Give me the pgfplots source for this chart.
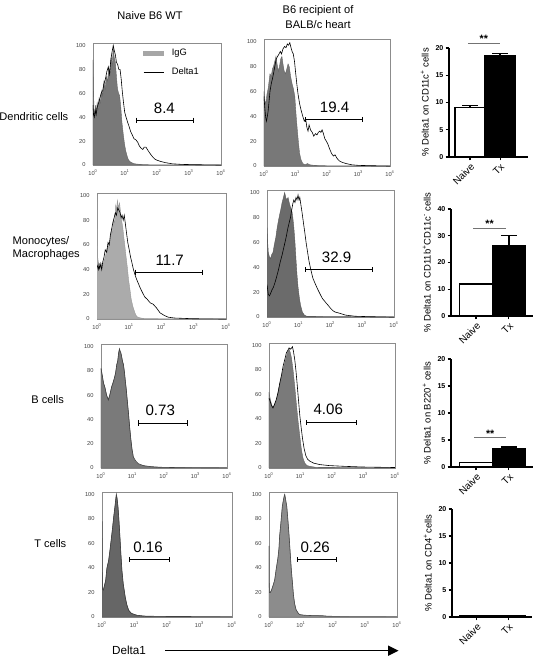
\documentclass[border=0pt]{standalone}
\usepackage{fontspec}
\setmainfont{Liberation Sans}
\usepackage{pgfplots}
\pgfplotsset{compat=1.18}
\usetikzlibrary{arrows.meta}
\begin{document}
\begin{tikzpicture}
\useasboundingbox (0,0) rectangle (408pt,-496.5pt);

% ---------- titles and row labels ----------
\node[font=\fontsize{8.3}{10}\selectfont] at (112.5pt,-12pt) {Naive B6 WT};
\node[font=\fontsize{8.3}{11.25}\selectfont, align=center] at (238.5pt,-13.1pt) {B6 recipient of\\BALB/c heart};
\node[font=\fontsize{8.3}{10}\selectfont, anchor=east] at (54.75pt,-87.75pt) {Dendritic cells};
\node[font=\fontsize{8.3}{9.75}\selectfont, anchor=west, align=left] at (6pt,-186.4pt) {Monocytes/\\Macrophages};
\node[font=\fontsize{8.3}{10}\selectfont, anchor=east] at (51.5pt,-300pt) {B cells};
\node[font=\fontsize{8.3}{10}\selectfont, anchor=east] at (53.25pt,-408pt) {T cells};
\node[font=\fontsize{8.8}{10}\selectfont, anchor=west] at (80.5pt,-487.5pt) {Delta1};
\draw[line width=1.1pt, -{Triangle[length=8pt,width=7.5pt]}] (123.75pt,-488pt) -- (299pt,-488pt);

% ================= ROW 1 =================
\begin{axis}[at={(69.75pt,-123.75pt)}, anchor=south west, width=96pt, height=91.5pt,
  scale only axis, xmode=log, xmin=1, xmax=10000, ymin=0, ymax=102,
  xtick={1,10,100,1000,10000},
  xticklabels={10\textsuperscript{0},10\textsuperscript{1},10\textsuperscript{2},10\textsuperscript{3},10\textsuperscript{4}},
  ytick={0,20,40,60,80,100}, yticklabels={0,20,40,60,80,100},
  major tick length=0pt, minor tick length=0pt,
  axis line style={black!45, line width=0.5pt},
  tick label style={font=\fontsize{4.3}{5}\selectfont, text=black!75},
  yticklabel style={xshift=-2pt},
  legend style={at={(0.39,0.975)}, anchor=north west, draw=none, fill=none,
    font=\fontsize{7}{8}\selectfont, row sep=3.5pt, inner sep=0pt,
    nodes={inner xsep=6pt}},
  legend cell align=left]
\addplot[fill=black!53, draw=black!60, line width=0.3pt,
  legend image code/.code={\fill[black!35] (0pt,-1.2pt) rectangle (15pt,1.2pt);}] coordinates {(1,88) (1.04,62) (1.08,45) (1.13,41) (1.2,50) (1.27,44) (1.35,52) (1.45,47) (1.55,56) (1.7,52) (1.85,62) (2.0,58) (2.2,70) (2.4,64) (2.6,74) (2.85,70) (3.1,82) (3.4,76) (3.7,90) (4.0,84) (4.3,98) (4.6,90) (5.0,86) (5.4,74) (5.8,64) (6.3,60) (6.8,58) (7.4,48) (8.0,36) (8.8,26) (9.6,18) (10.5,12) (11.5,8) (12.5,5) (14,3) (16,2) (20,1) (30,0.5) (60,0.2) (10000,0)} \closedcycle;
\addplot[black, line width=0.45pt,
  legend image code/.code={\draw[black, line width=0.5pt] (0pt,0pt) -- (15pt,0pt);}] coordinates {(1,50) (1.04,42) (1.1,40) (1.17,46) (1.25,42) (1.35,48) (1.5,52) (1.65,56) (1.8,60) (2.0,62) (2.2,68) (2.45,72) (2.7,78) (3.0,82) (3.3,76) (3.6,88) (3.9,94) (4.3,100) (4.6,96) (5.0,92) (5.4,86) (5.9,84) (6.4,80) (7.0,80) (7.6,72) (8.2,62) (9.0,52) (9.8,44) (10.8,40) (12,36) (13.5,32) (15,28) (17,25) (19,22) (22,21) (25,19) (28,16) (32,14) (36,13) (40,15) (45,15) (50,13) (56,11) (63,9) (72,7) (85,5) (100,4) (130,3) (180,2) (300,1) (600,0.5) (2000,0.2) (10000,0)};
\legend{IgG,Delta1}
\addplot[black, line width=0.7pt, mark=|, mark size=1.9pt, forget plot] coordinates {(23,37.5) (1380,37.5)};
\node[font=\fontsize{11.3}{12}\selectfont] at (axis cs:170,47) {8.4};
\end{axis}

\begin{axis}[at={(198pt,-124.5pt)}, anchor=south west, width=94.5pt, height=95.25pt,
  scale only axis, xmode=log, xmin=1, xmax=10000, ymin=0, ymax=102,
  xtick={1,10,100,1000,10000},
  xticklabels={10\textsuperscript{0},10\textsuperscript{1},10\textsuperscript{2},10\textsuperscript{3},10\textsuperscript{4}},
  ytick={0,20,40,60,80,100}, yticklabels={0,20,40,60,80,100},
  major tick length=0pt, minor tick length=0pt,
  axis line style={black!45, line width=0.5pt},
  tick label style={font=\fontsize{4.3}{5}\selectfont, text=black!75},
  yticklabel style={xshift=-2pt}]
\addplot[fill=black!53, draw=black!60, line width=0.3pt] coordinates {(1,60) (1.05,55) (1.1,50) (1.17,52) (1.25,58) (1.35,62) (1.45,68) (1.55,74) (1.7,72) (1.85,78) (2.0,80) (2.2,84) (2.4,88) (2.6,82) (2.85,76) (3.1,80) (3.4,86) (3.7,88) (4.0,82) (4.4,76) (4.8,74) (5.3,78) (5.8,82) (6.3,80) (7.0,72) (7.8,66) (8.6,62) (9.5,56) (10.5,40) (11.5,28) (12.5,18) (13.5,10) (15,5) (17,2) (20,1) (24,2) (28,1) (40,0.5) (100,0.2) (10000,0)} \closedcycle;
\addplot[black, line width=0.45pt] coordinates {(1,56) (1.05,48) (1.1,42) (1.15,38) (1.2,36) (1.28,40) (1.35,44) (1.45,52) (1.55,60) (1.7,66) (1.85,70) (2.0,74) (2.2,80) (2.45,86) (2.7,88) (3.0,90) (3.3,92) (3.6,90) (4.0,94) (4.5,96) (5.0,95) (5.5,98) (6.0,97) (6.6,99) (7.2,95) (7.8,92) (8.5,90) (9.3,84) (10,76) (11,66) (12,58) (13.5,50) (15,45) (17,40) (19,36) (21,38) (23,31) (25,28) (27,33) (30,29) (34,27) (38,24) (43,26) (48,25) (53,27) (58,28) (64,27) (70,29) (77,26) (85,22) (95,20) (105,18) (120,14) (140,10) (160,8) (180,9) (210,6) (250,4) (300,3) (400,2) (600,1) (1000,0.5) (3000,0.2) (10000,0)};
\addplot[black, line width=0.7pt, mark=|, mark size=1.9pt] coordinates {(21,37.5) (1300,37.5)};
\node[font=\fontsize{11.3}{12}\selectfont] at (axis cs:175,47) {19.4};
\end{axis}

\begin{axis}[at={(336.75pt,-117.75pt)}, anchor=south west, width=59.25pt, height=81.75pt,
  scale only axis, axis lines=left, axis line style={-, line width=0.9pt},
  clip=false, xtick={0,1}, xticklabels={Naive,Tx},
  xticklabel style={rotate=45, anchor=north east, font=\fontsize{7.5}{8}\selectfont, inner sep=1pt},
  yticklabel style={font=\bfseries\fontsize{5.3}{6}\selectfont, inner sep=1.5pt},
  tick align=outside, major tick length=2.5pt, tick style={black, line width=0.8pt},
  ylabel style={font=\fontsize{7.1}{8}\selectfont},
  xmin=-0.7, xmax=1.93, ymin=0, ymax=20, ytick={0,5,10,15,20}, yticklabels={0,5,10,15,20},
  ybar, bar width=22.5pt, ylabel={\% Delta1 on CD11c\textsuperscript{+} cells}]
\addplot[fill=white, draw=black, line width=1.1pt, bar shift=0pt,
  error bars/.cd, y dir=plus, y explicit, error bar style={line width=1pt, black},
  error mark options={rotate=90, mark size=6pt, line width=1pt, black}] coordinates {(0,9.1) +- (0,0.3)};
\addplot[fill=black, draw=black, line width=1.1pt, bar shift=0pt,
  error bars/.cd, y dir=plus, y explicit, error bar style={line width=1pt, black},
  error mark options={rotate=90, mark size=6pt, line width=1pt, black}] coordinates {(1,18.6) +- (0,0.4)};
\addplot[black!55, line width=0.6pt, sharp plot] coordinates {(-0.07,20.9) (1,20.9)};
\node[font=\bfseries\fontsize{8}{8}\selectfont] at (axis cs:0.46,21.6) {**};
\end{axis}

% ================= ROW 2 =================
\begin{axis}[at={(72.75pt,-239.25pt)}, anchor=south west, width=96.75pt, height=94.5pt,
  scale only axis, xmode=log, xmin=1, xmax=10000, ymin=0, ymax=102,
  xtick={1,10,100,1000,10000},
  xticklabels={10\textsuperscript{0},10\textsuperscript{1},10\textsuperscript{2},10\textsuperscript{3},10\textsuperscript{4}},
  ytick={0,20,40,60,80,100}, yticklabels={0,20,40,60,80,100},
  major tick length=0pt, minor tick length=0pt,
  axis line style={black!45, line width=0.5pt},
  tick label style={font=\fontsize{4.3}{5}\selectfont, text=black!75},
  yticklabel style={xshift=-2pt}]
\addplot[fill=black!33, draw=black!40, line width=0.3pt] coordinates {(1,100) (1.02,70) (1.05,50) (1.1,46) (1.2,44) (1.3,46) (1.45,43) (1.6,46) (1.8,50) (2.0,56) (2.2,60) (2.4,58) (2.6,66) (2.8,72) (3.0,70) (3.2,80) (3.5,78) (3.8,92) (4.0,88) (4.3,96) (4.6,90) (5.0,94) (5.4,86) (5.8,80) (6.3,74) (6.8,66) (7.4,58) (8,50) (8.7,42) (9.5,32) (10.5,24) (11.5,16) (13,10) (15,5) (17,2) (21,1) (30,0.3) (10000,0)} \closedcycle;
\addplot[black, line width=0.45pt] coordinates {(1,44) (1.05,42) (1.1,40) (1.15,44) (1.2,41) (1.3,44) (1.4,40) (1.5,46) (1.65,50) (1.8,56) (2.0,54) (2.2,62) (2.4,60) (2.6,68) (2.8,72) (3.1,78) (3.4,82) (3.7,86) (4.0,84) (4.4,90) (4.8,88) (5.2,86) (5.6,82) (6.0,84) (6.5,80) (7.0,84) (7.5,78) (8.2,70) (9.0,62) (10,56) (11,50) (12,46) (13.5,40) (15,36) (17,32) (19,29) (22,25) (25,22) (30,18) (36,16) (45,13) (55,12) (70,9) (90,5) (120,3) (160,1.5) (250,0.8) (1000,0.2) (10000,0)};
\addplot[black, line width=0.7pt, mark=|, mark size=1.9pt] coordinates {(16,38) (1900,38)};
\node[font=\fontsize{11.3}{12}\selectfont] at (axis cs:180,47.6) {11.7};
\end{axis}

\begin{axis}[at={(200.25pt,-237.75pt)}, anchor=south west, width=95.25pt, height=95.25pt,
  scale only axis, xmode=log, xmin=1, xmax=10000, ymin=0, ymax=102,
  xtick={1,10,100,1000,10000},
  xticklabels={10\textsuperscript{0},10\textsuperscript{1},10\textsuperscript{2},10\textsuperscript{3},10\textsuperscript{4}},
  ytick={0,20,40,60,80,100}, yticklabels={0,20,40,60,80,100},
  major tick length=0pt, minor tick length=0pt,
  axis line style={black!45, line width=0.5pt},
  tick label style={font=\fontsize{4.3}{5}\selectfont, text=black!75},
  yticklabel style={xshift=-2pt}]
\addplot[fill=black!58, draw=black!65, line width=0.3pt] coordinates {(1,72) (1.05,60) (1.1,52) (1.2,48) (1.3,47) (1.4,50) (1.55,52) (1.7,58) (1.9,64) (2.1,72) (2.4,80) (2.7,86) (3.0,92) (3.3,96) (3.6,100) (3.9,96) (4.2,94) (4.6,96) (5.0,92) (5.5,88) (6.0,86) (6.5,80) (7.0,72) (7.6,60) (8.2,46) (8.8,34) (9.5,24) (10.5,15) (11.5,9) (13,4) (15,1.5) (18,0.5) (10000,0)} \closedcycle;
\addplot[black, line width=0.45pt] coordinates {(1,26) (1.05,22) (1.1,18) (1.2,17) (1.3,19) (1.45,22) (1.6,24) (1.8,28) (2.0,32) (2.3,38) (2.6,44) (3.0,50) (3.4,56) (4.0,64) (4.6,72) (5.5,80) (6.0,86) (6.5,91) (7.0,94) (7.6,92) (8.2,96) (8.8,94) (9.5,98) (10.2,94) (10.8,96) (11.7,90) (12.7,84) (14,76) (15.5,68) (17,60) (19,52) (21,45) (24,38) (28,31) (34,26) (40,22) (48,18) (55,15) (64,13) (74,11) (87,9) (100,7) (120,5) (140,4) (195,3) (300,1.5) (600,0.6) (2000,0.2) (10000,0)};
\addplot[black, line width=0.7pt, mark=|, mark size=1.9pt] coordinates {(16.6,38) (2100,38)};
\node[font=\fontsize{11.3}{12}\selectfont] at (axis cs:155,48) {32.9};
\end{axis}

\begin{axis}[at={(338.25pt,-237pt)}, anchor=south west, width=61.5pt, height=80.25pt,
  scale only axis, axis lines=left, axis line style={-, line width=0.9pt},
  clip=false, xtick={0,1}, xticklabels={Naive,Tx},
  xticklabel style={rotate=45, anchor=north east, font=\fontsize{7.5}{8}\selectfont, inner sep=1pt},
  yticklabel style={font=\bfseries\fontsize{5.3}{6}\selectfont, inner sep=1.5pt},
  tick align=outside, major tick length=2.5pt, tick style={black, line width=0.8pt},
  ylabel style={font=\fontsize{7.1}{8}\selectfont},
  xmin=-0.76, xmax=1.73, ymin=0, ymax=40, ytick={0,10,20,30,40}, yticklabels={0,10,20,30,40},
  ybar, bar width=24.75pt, ylabel={\% Delta1 on CD11b\textsuperscript{+}CD11c\textsuperscript{-} cells}]
\addplot[fill=white, draw=black, line width=1.1pt, bar shift=0pt] coordinates {(0,12)};
\addplot[fill=black, draw=black, line width=1.1pt, bar shift=0pt,
  error bars/.cd, y dir=plus, y explicit, error bar style={line width=1pt, black},
  error mark options={rotate=90, mark size=6pt, line width=1pt, black}] coordinates {(1,26.2) +- (0,3.8)};
\addplot[black!55, line width=0.6pt, sharp plot] coordinates {(-0.09,32.9) (0.91,32.9)};
\node[font=\bfseries\fontsize{8}{8}\selectfont] at (axis cs:0.41,34.4) {**};
\end{axis}

% ================= ROW 3 =================
\begin{axis}[at={(75.75pt,-351pt)}, anchor=south west, width=94.5pt, height=93pt,
  scale only axis, xmode=log, xmin=1, xmax=10000, ymin=0, ymax=102,
  xtick={1,10,100,1000,10000},
  xticklabels={10\textsuperscript{0},10\textsuperscript{1},10\textsuperscript{2},10\textsuperscript{3},10\textsuperscript{4}},
  ytick={0,20,40,60,80,100}, yticklabels={0,20,40,60,80,100},
  major tick length=0pt, minor tick length=0pt,
  axis line style={black!45, line width=0.5pt},
  tick label style={font=\fontsize{4.3}{5}\selectfont, text=black!75},
  yticklabel style={xshift=-2pt}]
\addplot[fill=black!52, draw=black!60, line width=0.3pt] coordinates {(1,82) (1.1,76) (1.2,70) (1.34,66) (1.5,60) (1.71,56) (1.9,60) (2.19,67) (2.4,70) (2.66,74) (2.9,78) (3.16,85) (3.4,88) (3.6,94) (3.85,98) (4.05,96) (4.24,95) (4.5,92) (4.8,88) (5.16,85) (5.6,78) (6.0,70) (6.27,66) (6.8,56) (7.46,45) (8.1,34) (8.83,24) (9.7,15) (10.7,8) (12.5,5) (15.5,3) (22,1.8) (36.6,1) (80,0.4) (10000,0)} \closedcycle;
\addplot[black!75, line width=0.45pt] coordinates {(1,82) (1.1,76) (1.2,70) (1.34,66) (1.5,60) (1.71,56) (1.9,60) (2.19,67) (2.4,70) (2.66,74) (2.9,78) (3.16,85) (3.4,88) (3.6,94) (3.85,98) (4.05,96) (4.24,95) (4.5,92) (4.8,88) (5.16,85) (5.6,78) (6.0,70) (6.27,66) (6.8,56) (7.46,45) (8.1,34) (8.83,24) (9.7,15) (10.7,9) (12.5,6) (15.5,3.5) (22,2) (36.6,1.2) (80,0.6) (300,0.3) (10000,0.2)};
\addplot[black, line width=0.7pt, mark=|, mark size=1.9pt] coordinates {(16,37) (570,37)};
\node[font=\fontsize{11.3}{12}\selectfont] at (axis cs:76,47.6) {0.73};
\end{axis}

\begin{axis}[at={(201.75pt,-351pt)}, anchor=south west, width=94.5pt, height=93.75pt,
  scale only axis, xmode=log, xmin=1, xmax=10000, ymin=0, ymax=102,
  xtick={1,10,100,1000,10000},
  xticklabels={10\textsuperscript{0},10\textsuperscript{1},10\textsuperscript{2},10\textsuperscript{3},10\textsuperscript{4}},
  ytick={0,20,40,60,80,100}, yticklabels={0,20,40,60,80,100},
  major tick length=0pt, minor tick length=0pt,
  axis line style={black!45, line width=0.5pt},
  tick label style={font=\fontsize{4.3}{5}\selectfont, text=black!75},
  yticklabel style={xshift=-2pt}]
\addplot[fill=black!52, draw=black!60, line width=0.3pt] coordinates {(1,62) (1.1,56) (1.2,52) (1.34,49) (1.5,52) (1.71,55) (1.95,62) (2.19,69) (2.5,75) (2.8,80) (3.2,86) (3.57,91) (3.95,95) (4.35,97) (4.75,94) (5.16,90) (5.8,80) (6.6,66) (7.4,52) (8.4,38) (9.5,26) (10.7,15) (12,8) (13.7,4) (16,2) (19.8,1.4) (30,0.6) (10000,0)} \closedcycle;
\addplot[black, line width=0.45pt] coordinates {(1,57) (1.1,54) (1.2,51) (1.34,49) (1.5,52) (1.71,56) (1.95,62) (2.19,69) (2.5,76) (2.8,83) (3.2,89) (3.57,94) (3.95,96) (4.35,98) (4.9,97) (5.55,99) (6.0,95) (6.6,88) (7.2,79) (7.8,69) (8.6,56) (9.5,43) (10.5,33) (11.6,24) (13,16) (14.8,10) (17,7) (19.8,5.6) (26,4) (41,2.8) (80,2) (230,1.4) (1000,0.8) (10000,0.4)};
\addplot[black, line width=0.7pt, mark=|, mark size=1.9pt] coordinates {(16,37) (590,37)};
\node[font=\fontsize{11.3}{12}\selectfont] at (axis cs:76,47.6) {4.06};
\end{axis}

\begin{axis}[at={(338.25pt,-350.25pt)}, anchor=south west, width=61.5pt, height=81pt,
  scale only axis, axis lines=left, axis line style={-, line width=0.9pt},
  clip=false, xtick={0,1}, xticklabels={Naive,Tx},
  xticklabel style={rotate=45, anchor=north east, font=\fontsize{7.5}{8}\selectfont, inner sep=1pt},
  yticklabel style={font=\bfseries\fontsize{5.3}{6}\selectfont, inner sep=1.5pt},
  tick align=outside, major tick length=2.5pt, tick style={black, line width=0.8pt},
  ylabel style={font=\fontsize{7.1}{8}\selectfont},
  xmin=-0.76, xmax=1.73, ymin=0, ymax=20, ytick={0,5,10,15,20}, yticklabels={0,5,10,15,20},
  ybar, bar width=24.75pt, ylabel={\% Delta1 on B220\textsuperscript{+} cells}]
\addplot[fill=white, draw=black, line width=1.1pt, bar shift=0pt] coordinates {(0,0.8)};
\addplot[fill=black, draw=black, line width=1.1pt, bar shift=0pt,
  error bars/.cd, y dir=plus, y explicit, error bar style={line width=1pt, black},
  error mark options={rotate=90, mark size=6pt, line width=1pt, black}] coordinates {(1,3.3) +- (0,0.4)};
\addplot[black!55, line width=0.6pt, sharp plot] coordinates {(-0.06,5.4) (0.91,5.4)};
\node[font=\bfseries\fontsize{8}{8}\selectfont] at (axis cs:0.43,6.2) {**};
\end{axis}

% ================= ROW 4 =================
\begin{axis}[at={(76.5pt,-462.75pt)}, anchor=south west, width=97.5pt, height=93.75pt,
  scale only axis, xmode=log, xmin=1, xmax=10000, ymin=0, ymax=102,
  xtick={1,10,100,1000,10000},
  xticklabels={10\textsuperscript{0},10\textsuperscript{1},10\textsuperscript{2},10\textsuperscript{3},10\textsuperscript{4}},
  ytick={0,20,40,60,80,100}, yticklabels={0,20,40,60,80,100},
  major tick length=0pt, minor tick length=0pt,
  axis line style={black!45, line width=0.5pt},
  tick label style={font=\fontsize{4.3}{5}\selectfont, text=black!75},
  yticklabel style={xshift=-2pt}]
\addplot[fill=black!60, draw=black!68, line width=0.3pt] coordinates {(1,78) (1.01,40) (1.03,23) (1.1,22) (1.2,26) (1.3,30) (1.42,40) (1.6,46) (1.75,54) (1.9,62) (2.1,72) (2.3,82) (2.5,90) (2.65,96) (2.76,100) (2.9,97) (3.1,90) (3.3,80) (3.55,66) (3.8,52) (4.1,38) (4.5,27) (5.2,16) (5.8,10) (6.6,5.5) (8,3) (10,2) (12,1.4) (20,0.6) (50,0.3) (10000,0)} \closedcycle;
\addplot[black!75, line width=0.45pt] coordinates {(1,78) (1.01,40) (1.03,23) (1.1,22) (1.2,26) (1.3,30) (1.42,40) (1.6,46) (1.75,54) (1.9,62) (2.1,72) (2.3,82) (2.5,90) (2.65,96) (2.76,100) (2.9,97) (3.1,90) (3.3,80) (3.55,66) (3.8,52) (4.1,38) (4.5,27) (5.2,16) (5.8,10) (6.6,5.5) (8,3) (10,2) (12,1.4) (20,0.8) (50,0.5) (200,0.4) (10000,0.3)};
\addplot[black, line width=0.7pt, mark=|, mark size=1.9pt] coordinates {(7.1,46.6) (118,46.6)};
\node[font=\fontsize{11.3}{12}\selectfont, anchor=west] at (axis cs:6.6,57) {0.16};
\end{axis}

\begin{axis}[at={(201.75pt,-462.75pt)}, anchor=south west, width=96pt, height=93.75pt,
  scale only axis, xmode=log, xmin=1, xmax=10000, ymin=0, ymax=102,
  xtick={1,10,100,1000,10000},
  xticklabels={10\textsuperscript{0},10\textsuperscript{1},10\textsuperscript{2},10\textsuperscript{3},10\textsuperscript{4}},
  ytick={0,20,40,60,80,100}, yticklabels={0,20,40,60,80,100},
  major tick length=0pt, minor tick length=0pt,
  axis line style={black!45, line width=0.5pt},
  tick label style={font=\fontsize{4.3}{5}\selectfont, text=black!75},
  yticklabel style={xshift=-2pt}]
\addplot[fill=black!45, draw=black!55, line width=0.3pt] coordinates {(1,58) (1.01,30) (1.03,20) (1.1,20) (1.2,22) (1.35,26) (1.5,30) (1.7,40) (1.9,48) (2.05,56) (2.15,66) (2.3,74) (2.45,82) (2.6,90) (2.8,95) (3.0,99) (3.1,100) (3.3,96) (3.6,90) (3.9,79) (4.2,68) (4.5,56) (4.8,45) (5.0,38) (5.4,28) (5.8,18) (6.3,11) (7,6) (8,3.5) (9,2) (12,1.5) (20,1.2) (48,1) (75,0.3) (10000,0)} \closedcycle;
\addplot[black!70, line width=0.45pt] coordinates {(1,58) (1.01,30) (1.03,20) (1.1,20) (1.2,22) (1.35,26) (1.5,30) (1.7,40) (1.9,48) (2.05,56) (2.15,66) (2.3,74) (2.45,82) (2.6,90) (2.8,95) (3.0,99) (3.1,100) (3.3,96) (3.6,90) (3.9,79) (4.2,68) (4.5,56) (4.8,45) (5.0,38) (5.4,28) (5.8,18) (6.3,11) (7,6) (8,3.5) (9,2) (12,1.5) (20,1.2) (48,1) (75,0.6) (200,0.5) (10000,0.5)};
\addplot[black, line width=0.7pt, mark=|, mark size=1.9pt] coordinates {(7.5,46.6) (125,46.6)};
\node[font=\fontsize{11.3}{12}\selectfont, anchor=west] at (axis cs:6.9,57) {0.26};
\end{axis}

\begin{axis}[at={(339pt,-462.75pt)}, anchor=south west, width=60pt, height=81pt,
  scale only axis, axis lines=left, axis line style={-, line width=0.9pt},
  clip=false, xtick={0,1}, xticklabels={Naive,Tx},
  xticklabel style={rotate=45, anchor=north east, font=\fontsize{7.5}{8}\selectfont, inner sep=1pt},
  yticklabel style={font=\bfseries\fontsize{5.3}{6}\selectfont, inner sep=1.5pt},
  tick align=outside, major tick length=2.5pt, tick style={black, line width=0.8pt},
  ylabel style={font=\fontsize{7.1}{8}\selectfont},
  xmin=-0.76, xmax=1.73, ymin=0, ymax=20, ytick={0,5,10,15,20}, yticklabels={0,5,10,15,20},
  ybar, bar width=24.75pt, ylabel={\% Delta1 on CD4\textsuperscript{+}cells}]
\addplot[fill=white, draw=black, line width=1.1pt, bar shift=0pt] coordinates {(0,0.15)};
\addplot[fill=black, draw=black, line width=1.1pt, bar shift=0pt] coordinates {(1,0.25)};
\end{axis}

\end{tikzpicture}
\end{document}
